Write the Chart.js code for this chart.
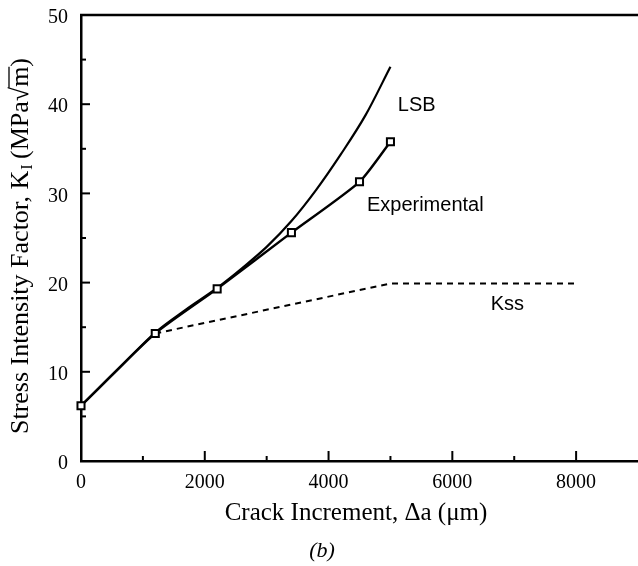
<!DOCTYPE html>
<html>
<head>
<meta charset="utf-8">
<script src="https://cdn.jsdelivr.net/npm/chart.js@4.4.0/dist/chart.umd.min.js"></script>
<style>
  html, body { margin: 0; padding: 0; background: #fff; }
</style>
</head>
<body>
<canvas id="chart" width="638" height="566"></canvas>
<script>
const xTicks = [0, 2000, 4000, 6000, 8000];
const yTicks = [0, 10, 20, 30, 40, 50];

// experimental points (open squares)
const expX = [0, 1200, 2200, 3400, 4500, 5000];
const expY = [6.2, 14.3, 19.3, 25.6, 31.3, 35.8];

// LSB prediction
const lsbX = [0, 600, 1200, 1700, 2200, 2600, 3000, 3400, 3800, 4200, 4600, 5000];
const lsbY = [6.2, 10.3, 14.4, 17.0, 19.4, 21.6, 24.0, 26.9, 30.4, 34.4, 38.8, 44.2];

// steady state Kss (dashed)
const kssX = [1200, 5000, 8000];
const kssY = [14.3, 19.9, 19.9];

const curveNames = ["LSB", "Experimental", "Kss"];
// where each name sits, in data units (left edge, middle)
const nameAt = [[5120, 39.9], [4620, 28.6], [6620, 17.6]];

const serif = "'Liberation Serif', 'Times New Roman', serif";
const sans = "'Liberation Sans', Arial, sans-serif";

function toPts(xs, ys) {
  return xs.map((x, i) => ({ x: x, y: ys[i] }));
}

function noPad(s) {
  s.paddingTop = 0;
  s.paddingBottom = 0;
  s.paddingLeft = 0;
  s.paddingRight = 0;
}

const framePlugin = {
  id: "frame",
  beforeDraw(chart) {
    const ctx = chart.ctx;
    ctx.save();
    ctx.fillStyle = "#fff";
    ctx.fillRect(0, 0, chart.width, chart.height);
    ctx.restore();
  },
  afterDraw(chart) {
    const ctx = chart.ctx;
    const a = chart.chartArea;
    const x = chart.scales.x;
    const y = chart.scales.y;
    ctx.save();
    ctx.strokeStyle = "#000";
    ctx.fillStyle = "#000";

    // top frame line
    ctx.lineWidth = 2.5;
    ctx.beginPath();
    ctx.moveTo(a.left - 1, a.top);
    ctx.lineTo(a.right, a.top);
    ctx.stroke();

    // inward tick marks
    ctx.lineWidth = 2;
    for (let v = 1000; v < 9000; v += 1000) {
      const px = x.getPixelForValue(v);
      const len = v % 2000 === 0 ? 10 : 5;
      ctx.beginPath();
      ctx.moveTo(px, a.bottom);
      ctx.lineTo(px, a.bottom - len);
      ctx.stroke();
    }
    for (let v = 5; v < 50; v += 5) {
      const py = y.getPixelForValue(v);
      const len = v % 10 === 0 ? 9 : 5;
      ctx.beginPath();
      ctx.moveTo(a.left, py);
      ctx.lineTo(a.left + len, py);
      ctx.stroke();
    }

    // curve names
    ctx.font = "20px " + sans;
    ctx.textAlign = "left";
    ctx.textBaseline = "middle";
    curveNames.forEach((n, i) => {
      ctx.fillText(n, x.getPixelForValue(nameAt[i][0]), y.getPixelForValue(nameAt[i][1]));
    });

    // x axis title
    ctx.textBaseline = "alphabetic";
    ctx.textAlign = "center";
    ctx.font = "25px " + serif;
    ctx.fillText("Crack Increment, \u0394a (\u03bcm)", 356, 520);

    // panel letter
    ctx.font = "italic 22px " + serif;
    ctx.fillText("(b)", 322, 557);

    // y axis title with subscript and radical
    ctx.translate(28, 246);
    ctx.rotate(-Math.PI / 2);
    ctx.textAlign = "left";
    const big = "26px " + serif;
    const small = "16px " + serif;
    const p1 = "Stress Intensity Factor, K";
    const p2 = "I";
    const p3 = " (MPa\u221a";
    const p4 = "m";
    const p5 = ")";
    ctx.font = big;
    const w1 = ctx.measureText(p1).width;
    const w3 = ctx.measureText(p3).width;
    const w4 = ctx.measureText(p4).width;
    const w5 = ctx.measureText(p5).width;
    ctx.font = small;
    const w2 = ctx.measureText(p2).width;
    let cx = -(w1 + w2 + w3 + w4 + w5) / 2;
    ctx.font = big;
    ctx.fillText(p1, cx, 0);
    cx += w1;
    ctx.font = small;
    ctx.fillText(p2, cx + 1, 4);
    cx += w2;
    ctx.font = big;
    ctx.fillText(p3, cx, 0);
    cx += w3;
    ctx.fillText(p4, cx, 0);
    ctx.lineWidth = 1.3;
    ctx.beginPath();
    ctx.moveTo(cx - 1, -19);
    ctx.lineTo(cx + w4, -19);
    ctx.stroke();
    cx += w4;
    ctx.fillText(p5, cx, 0);
    ctx.restore();
  }
};

const ctx = document.getElementById("chart").getContext("2d");

new Chart(ctx, {
  type: "line",
  data: {
    datasets: [
      {
        label: "Experimental",
        data: toPts(expX, expY),
        borderColor: "#000",
        borderWidth: 2.4,
        tension: 0.2,
        pointStyle: "rect",
        pointRadius: 5,
        pointBackgroundColor: "#fff",
        pointBorderColor: "#000",
        pointBorderWidth: 2,
        clip: false
      },
      {
        label: "LSB",
        data: toPts(lsbX, lsbY),
        borderColor: "#000",
        borderWidth: 2.2,
        cubicInterpolationMode: "monotone",
        pointRadius: 0,
        clip: false
      },
      {
        label: "Kss",
        data: toPts(kssX, kssY),
        borderColor: "#000",
        borderWidth: 2,
        borderDash: [6, 5],
        tension: 0,
        pointRadius: 0,
        clip: false
      }
    ]
  },
  options: {
    responsive: false,
    animation: false,
    layout: { autoPadding: false, padding: { top: 15, right: 0, left: 0, bottom: 0 } },
    plugins: {
      legend: { display: false },
      tooltip: { enabled: false }
    },
    scales: {
      x: {
        type: "linear",
        min: 0,
        max: 9000,
        afterFit(s) { s.height = 105; noPad(s); },
        afterBuildTicks(s) { s.ticks = xTicks.map((v) => ({ value: v })); },
        grid: { display: false, drawTicks: false },
        border: { display: true, color: "#000", width: 2.5 },
        ticks: {
          color: "#000",
          font: { family: serif, size: 20 },
          padding: 10,
          maxRotation: 0,
          callback: (v) => String(v)
        }
      },
      y: {
        type: "linear",
        min: 0,
        max: 50,
        afterFit(s) { s.width = 81; noPad(s); },
        afterBuildTicks(s) { s.ticks = yTicks.map((v) => ({ value: v })); },
        grid: { display: false, drawTicks: false },
        border: { display: true, color: "#000", width: 2.5 },
        ticks: {
          color: "#000",
          font: { family: serif, size: 20 },
          padding: 13,
          labelOffset: 3,
          callback: (v) => String(v)
        }
      }
    }
  },
  plugins: [framePlugin]
});
</script>
</body>
</html>
